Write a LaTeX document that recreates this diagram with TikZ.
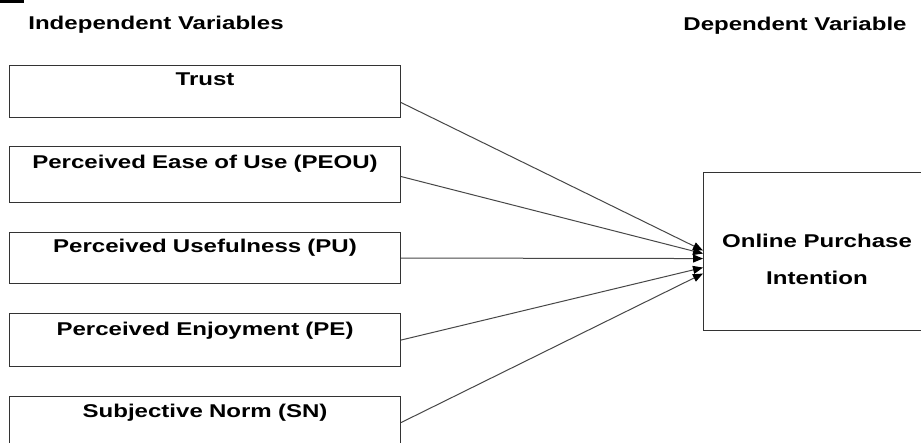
\documentclass[tikz,border=0pt]{standalone}
\usepackage{fontspec}
\newfontfamily\lab[FakeStretch=1.3]{Liberation Sans}
\usetikzlibrary{arrows.meta}
\begin{document}
\begin{tikzpicture}[x=1pt,y=-1pt,
  txt/.style={font={\lab\bfseries\fontsize{18.5}{22}\selectfont},text=black,inner sep=0pt},
  lbox/.style={txt,draw=black!80,line width=1.1pt,anchor=north west,minimum width=391pt,text width=391pt,align=center},
  conn/.style={draw=black!72,line width=1pt,-{Triangle[length=10pt,width=8pt,color=black]}}]
\clip (0,0) rectangle (921,443);
\fill[white] (0,0) rectangle (921,443);
\fill[black] (0,0) rectangle (24,3);
\node (hind) [txt,anchor=base] at (156,30) {Independent Variables};
\node (hdep) [txt,anchor=base] at (795,31) {Dependent Variable};
\node (trust) [lbox,text height=20pt,text depth=32pt] at (9,65) {Trust};
\node (peou) [lbox,text height=22pt,text depth=34pt] at (9,146) {Perceived Ease of Use (PEOU)};
\node (pu) [lbox,text height=20pt,text depth=31pt] at (9,232) {Perceived Usefulness (PU)};
\node (pe) [lbox,text height=22pt,text depth=31pt] at (9,313) {Perceived Enjoyment (PE)};
\node (sn) [lbox,text height=21pt,text depth=40pt] at (9,396) {Subjective Norm (SN)};
\node (opi) [draw=black!80,line width=1.1pt,anchor=north west,inner sep=0pt,minimum width=228pt,minimum height=158pt] at (703,172) {};
\node (opi1) [txt,anchor=base] at (817,248) {Online Purchase};
\node (opi2) [txt,anchor=base] at (817,285) {Intention};
\draw[conn] ([yshift=-11pt]trust.east) -- ([yshift=1pt]opi.west);
\draw[conn] ([yshift=-2pt]peou.east) -- ([yshift=-2pt]opi.west);
\draw[conn] (pu.east) -- ([yshift=-7pt]opi.west);
\draw[conn] (pe.east) -- ([yshift=-16pt]opi.west);
\draw[conn] ([yshift=4.5pt]sn.east) -- ([yshift=-22pt]opi.west);
\end{tikzpicture}
\end{document}
